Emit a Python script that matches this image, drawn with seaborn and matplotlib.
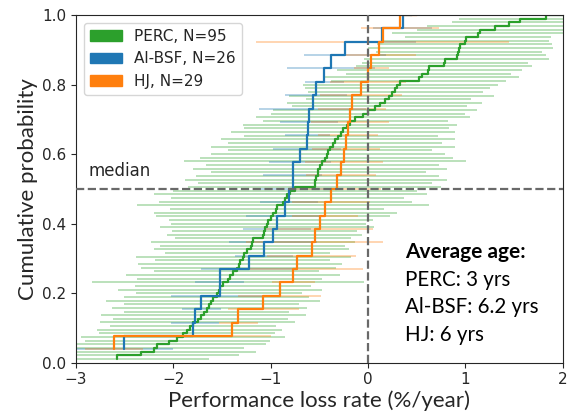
import numpy as np
import pandas as pd
import matplotlib
matplotlib.use("Agg")
import matplotlib.pyplot as plt
import seaborn as sns
from matplotlib.patches import Patch

# ---- data (performance loss rate, %/year, sorted) ----
perc_plr = [-2.58, -2.33, -2.20, -2.17, -2.05, -1.96, -1.90, -1.86, -1.83, -1.80,
            -1.75, -1.72, -1.69, -1.66, -1.63, -1.61, -1.59, -1.555, -1.53, -1.52,
            -1.49, -1.44, -1.42, -1.385, -1.35, -1.33, -1.316, -1.29, -1.28, -1.24,
            -1.20, -1.19, -1.18, -1.08, -1.065, -1.06, -1.04, -1.026, -1.00, -0.975,
            -0.95, -0.94, -0.87, -0.85, -0.83, -0.80, -0.75, -0.55, -0.545, -0.535,
            -0.52, -0.51, -0.495, -0.47, -0.445, -0.425, -0.41, -0.39, -0.36, -0.34,
            -0.31, -0.28, -0.256, -0.22, -0.19, -0.13, -0.05, 0.0, 0.07, 0.12,
            0.17, 0.21, 0.24, 0.28, 0.30, 0.33, 0.52, 0.55, 0.62, 0.63,
            0.78, 0.79, 0.91, 0.925, 0.935, 0.945, 0.99, 1.01, 1.13, 1.15,
            1.30, 1.45, 1.56, 1.83, 2.0]
perc_err = [0.95, 1.0, 1.05, 0.9, 1.0, 0.95, 1.05, 0.9, 0.95, 0.85,
            1.0, 0.9, 1.05, 0.85, 1.0, 0.9, 1.1, 0.95, 0.85, 1.05,
            0.9, 1.4, 0.95, 1.1, 0.85, 1.0, 1.05, 0.9, 1.1, 0.85,
            1.0, 0.95, 1.05, 0.9, 1.0, 0.95, 1.1, 1.0, 1.05, 1.2,
            1.25, 1.1, 1.5, 1.3, 1.2, 1.4, 1.25, 1.3, 1.2, 1.35,
            1.25, 1.1, 1.3, 1.2, 1.45, 1.3, 1.2, 1.05, 1.25, 1.1,
            1.2, 1.0, 1.15, 1.05, 1.1, 0.95, 1.1, 1.0, 1.05, 0.9,
            1.0, 0.85, 1.05, 0.9, 0.95, 1.0, 0.9, 1.0, 0.85, 0.95,
            0.9, 0.85, 0.95, 0.9, 0.85, 0.95, 0.9, 0.85, 0.75, 0.9,
            0.8, 0.85, 0.7, 0.9, 0.8]

albsf_plr = [-2.505, -1.80, -1.78, -1.715, -1.525, -1.525, -1.22, -1.07, -0.975, -0.935,
             -0.855, -0.815, -0.775, -0.775, -0.70, -0.63, -0.62, -0.61, -0.57, -0.536,
             -0.45, -0.382, -0.24, 0.138, 0.353, 0.45]
albsf_err = [0.5, 0.3, 0.25, 0.2, 0.5, 0.25, 0.5, 0.3, 0.45, 0.35,
             0.4, 0.3, 0.35, 0.3, 0.32, 0.35, 0.23, 0.3, 0.55, 0.32,
             0.2, 0.45, 0.42, 0.35, 0.3, 0.3]

hj_plr = [-2.61, -1.40, -1.335, -1.075, -0.91, -0.77, -0.73, -0.58, -0.55, -0.496,
          -0.44, -0.38, -0.32, -0.28, -0.245, -0.225, -0.205, -0.187, -0.163, -0.074,
          0.0, 0.03, 0.11, 0.149, 0.326, 0.5]
hj_err = [0.3, 0.4, 0.2, 0.36, 0.43, 0.22, 0.68, 0.46, 0.7, 0.55,
          0.34, 0.4, 0.45, 0.36, 0.4, 0.35, 0.31, 0.4, 0.35, 0.42,
          0.39, 0.18, 0.38, 1.3, 0.4, 0.3]

labels = ["PERC, N=95", "Al-BSF, N=26", "HJ, N=29"]
colors = ["#2ca02c", "#1f77b4", "#ff7f0e"]
age_title = "Average age:"
age_lines = ["PERC: 3 yrs", "Al-BSF: 6.2 yrs", "HJ: 6 yrs"]

sns.set_style("ticks")
plt.rcParams['font.family'] = ['DejaVu Sans']
label_font = ['Lato', 'DejaVu Sans']

fig = plt.figure(figsize=(5.72, 4.16), dpi=100)
ax = fig.add_axes([0.133, 0.128, 0.851, 0.836])

series = [(perc_plr, perc_err), (albsf_plr, albsf_err), (hj_plr, hj_err)]
frames = []
for (vals, errs), lab in zip(series, labels):
    n = len(vals)
    frames.append(pd.DataFrame({"plr": vals, "err": errs,
                                "cum": np.arange(1, n + 1) / n, "group": lab}))
df = pd.concat(frames, ignore_index=True)

# error bars (light)
for lab, col in zip(labels, colors):
    d = df[df.group == lab]
    ax.errorbar(d.plr, d.cum, xerr=d.err, fmt='none', ecolor=col,
                alpha=0.32, elinewidth=1.4, capsize=0, zorder=1)

# ECDF step lines
for lab, col in zip(labels, colors):
    d = df[df.group == lab]
    sns.lineplot(data=d, x="plr", y="cum", ax=ax, color=col, lw=1.6,
                 drawstyle='steps-pre', estimator=None, sort=False,
                 legend=False, zorder=2)

ax.axhline(0.5, color='dimgray', ls='--', lw=1.6, zorder=3)
ax.axvline(0.0, color='dimgray', ls='--', lw=1.6, zorder=3)
ax.text(-2.87, 0.525, "median", fontsize=12, va='bottom', ha='left', color='.15')

ax.text(0.378, 0.301, age_title, fontsize=15, fontweight='bold',
        family=label_font, va='baseline', ha='left', color='black')
for yv, t in zip([0.221, 0.142, 0.0625], age_lines):
    ax.text(0.378, yv, t, fontsize=14.8, family=label_font,
            va='baseline', ha='left', color='black')

ax.set_xlim(-3, 2)
ax.set_ylim(0, 1.0)
ax.set_xticks([-3, -2, -1, 0, 1, 2])
ax.set_yticks([0.0, 0.2, 0.4, 0.6, 0.8, 1.0])
ax.tick_params(labelsize=11)
ax.set_xlabel("Performance loss rate (%/year)", fontsize=16, family=label_font,
              labelpad=2)
ax.set_ylabel("Cumulative probability", fontsize=16, family=label_font,
              labelpad=3)

handles = [Patch(color=c, label=l) for c, l in zip(colors, labels)]
ax.legend(handles=handles, loc='upper left', fontsize=11, handlelength=2.1)

for s in ax.spines.values():
    s.set_color('.15')

fig.savefig("out.png", dpi=100)
